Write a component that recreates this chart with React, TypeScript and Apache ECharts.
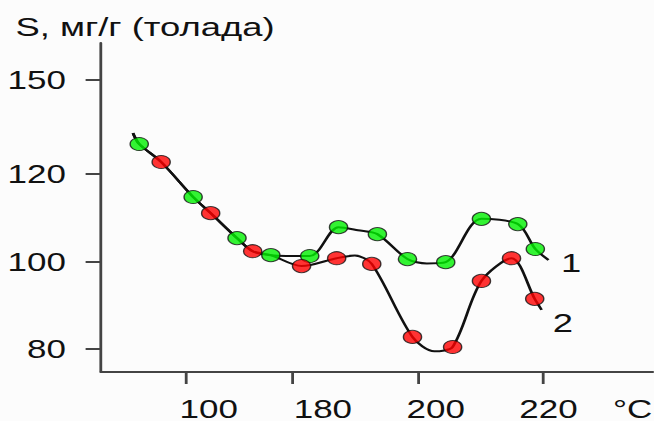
import React, { useEffect, useRef } from "react";
import * as echarts from "echarts";

// Horizontal stretch of the original picture
const STRETCH = 1.4;
const PAGE_W = 654;
const PAGE_H = 421;

// Axis ticks and labels (x: °C, y: S, мг/г)
const xTickValues = [162.9, 180, 200, 220];
const xLabelValues = [166.6, 184.8, 202.8, 220.8];
const xTickLabels = ["100", "180", "200", "220"];
const yTickValues = [80, 100, 120, 141.5];
const yTickLabels = ["80", "100", "120", "150"];

// Series 1 (green markers)
const greenX = [155.5, 164.1, 171.1, 176.5, 182.7, 187.3, 193.5, 198.3, 204.4, 210.1, 215.9, 218.7];
const greenY = [126.9, 114.8, 105.4, 101.5, 101.3, 107.9, 106.3, 100.6, 99.9, 109.8, 108.6, 102.9];
// Series 2 (red markers)
const redX = [159.0, 166.9, 173.6, 181.4, 187.0, 192.6, 199.1, 205.5, 210.1, 214.9, 218.6];
const redY = [122.8, 111.1, 102.4, 99.0, 100.8, 99.5, 82.8, 80.5, 95.6, 100.8, 91.5];

// Number of leading points that lie on the common part of both curves
const sharedGreen = 4;
const sharedRed = 3;

// Curve tails and extra trace points
const lineStart = [154.5, 129.4];
const curve1End = [220.8, 100.4];
const curve2End = [219.7, 89.0];
const curve1Via = [[190.4, 107.2], [201.4, 99.6]];
const curve2Via = [[189.9, 101.4], [202.6, 79.5]];

const seriesLabels = ["1", "2"];

function pairs(xs: number[], ys: number[]) {
  return xs.map((x, i) => [x, ys[i]]);
}

function buildCurve(shared: number[][], own: number[][], via: number[][], end: number[]) {
  const pts = [lineStart, ...shared, ...own, ...via, end];
  return pts.slice().sort((a, b) => a[0] - b[0]);
}

export default function App() {
  const ref = useRef<HTMLDivElement>(null);

  useEffect(() => {
    if (!ref.current) return;
    const chart = echarts.init(ref.current, null, { renderer: "svg" });
    const green = pairs(greenX, greenY);
    const red = pairs(redX, redY);
    const shared = [...green.slice(0, sharedGreen), ...red.slice(0, sharedRed)];
    const curve1 = buildCurve(shared, green.slice(sharedGreen), curve1Via, curve1End);
    const curve2 = buildCurve(shared, red.slice(sharedRed), curve2Via, curve2End);

    const font = "'Liberation Sans', Arial, sans-serif";
    const pick = (vals: number[], labels: string[]) => (v: number) => {
      const i = vals.findIndex((t) => Math.abs(t - v) < 1e-6);
      return i >= 0 ? labels[i] : "";
    };

    chart.setOption({
      animation: false,
      backgroundColor: "#fcfcfc",
      title: {
        text: "S, мг/г (толада)",
        left: 6,
        top: 9,
        textStyle: { fontSize: 26, fontWeight: "normal", color: "#111", fontFamily: font },
      },
      grid: {
        left: 101 / STRETCH,
        right: 0,
        top: 43,
        bottom: 49,
        containLabel: false,
        outerBoundsMode: "none",
      },
      xAxis: {
        type: "value",
        min: 149.4,
        max: 237.6,
        axisLine: { show: true, lineStyle: { color: "#444", width: 2 } },
        axisTick: { show: true, customValues: xTickValues, length: 12, lineStyle: { color: "#444", width: 2 } },
        axisLabel: {
          customValues: xLabelValues,
          formatter: pick(xLabelValues, xTickLabels),
          fontSize: 25,
          color: "#111",
          fontFamily: font,
          margin: 24,
        },
        splitLine: { show: false },
      },
      yAxis: {
        type: "value",
        min: 74.78,
        max: 150,
        axisLine: { show: true, lineStyle: { color: "#444", width: 2 } },
        axisTick: { show: true, customValues: yTickValues, length: 11, lineStyle: { color: "#444", width: 2 } },
        axisLabel: {
          customValues: yTickValues,
          formatter: pick(yTickValues, yTickLabels),
          fontSize: 25,
          color: "#111",
          fontFamily: font,
          margin: 25,
        },
        splitLine: { show: false },
      },
      graphic: [
        {
          type: "text",
          left: 613 / STRETCH,
          top: 396,
          style: { text: "°C", fontSize: 25, fill: "#111", fontFamily: font },
        },
      ],
      series: [
        {
          type: "line",
          data: curve1,
          smooth: 0.3,
          showSymbol: false,
          lineStyle: { color: "#111", width: 2 },
          endLabel: {
            show: true,
            formatter: seriesLabels[0],
            fontSize: 26,
            color: "#111",
            fontFamily: font,
            offset: [1, 3],
          },
          z: 2,
        },
        {
          type: "line",
          data: curve2,
          smooth: 0.3,
          showSymbol: false,
          lineStyle: { color: "#111", width: 2 },
          endLabel: {
            show: true,
            formatter: seriesLabels[1],
            fontSize: 26,
            color: "#111",
            fontFamily: font,
            offset: [0, 13],
          },
          z: 2,
        },
        {
          type: "scatter",
          data: green,
          symbol: "circle",
          symbolSize: 13,
          itemStyle: { color: "#00f000", borderColor: "#111", borderWidth: 1 },
          z: 5,
        },
        {
          type: "scatter",
          data: red,
          symbol: "circle",
          symbolSize: 13,
          itemStyle: { color: "#ff0000", borderColor: "#111", borderWidth: 1 },
          z: 5,
        },
      ],
    });
    return () => chart.dispose();
  }, []);

  return (
    <div
      style={{
        position: "fixed",
        left: 0,
        top: 0,
        width: PAGE_W,
        height: PAGE_H,
        overflow: "hidden",
        background: "#fcfcfc",
      }}
    >
      <div
        ref={ref}
        style={{
          width: PAGE_W / STRETCH,
          height: PAGE_H,
          transform: `scaleX(${STRETCH})`,
          transformOrigin: "0 0",
        }}
      />
    </div>
  );
}
